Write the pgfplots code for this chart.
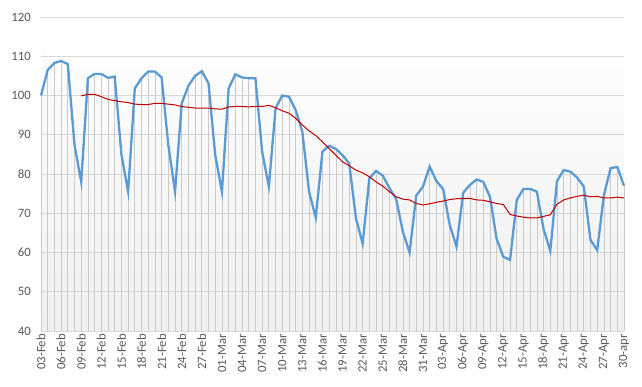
\documentclass[border=0pt]{standalone}
\usepackage{pgfplots}
\pgfplotsset{compat=1.18}
\usepackage{fontspec}
\setmainfont{Carlito}
\definecolor{lblue}{HTML}{5B9BD5}
\definecolor{lred}{HTML}{C00000}
\definecolor{gridc}{HTML}{D9D9D9}
\definecolor{dropc}{HTML}{CACACA}
\definecolor{txt}{HTML}{595959}
\begin{document}
\begin{tikzpicture}[x=1bp,y=1bp]
\begin{axis}[
  at={(0,0)}, anchor=south west,
  scale only axis, width=583bp, height=314bp,
  xmin=0, xmax=87, ymin=40, ymax=120,
  ytick={40,50,...,120},
  xtick={0,3,...,87},
  xticklabels={03-Feb,06-Feb,09-Feb,12-Feb,15-Feb,18-Feb,21-Feb,24-Feb,27-Feb,01-Mar,04-Mar,07-Mar,10-Mar,13-Mar,16-Mar,19-Mar,22-Mar,25-Mar,28-Mar,31-Mar,03-Apr,06-Apr,09-Apr,12-Apr,15-Apr,18-Apr,21-Apr,24-Apr,27-Apr,30-apr},
  x tick label style={rotate=90, anchor=east, font=\fontsize{12.8}{14}\selectfont, text=txt, inner sep=3bp},
  y tick label style={font=\fontsize{12.8}{14}\selectfont, text=txt, anchor=east, inner sep=0bp, xshift=-10bp},
  /pgf/number format/assume math mode=true,
  ymajorgrids, grid style={gridc, line width=0.8bp},
  axis line style={draw=none},
  major tick length=0pt,
  axis background/.style={shade, top color=white, bottom color=black!6},
  clip=false,
]
\addplot[ycomb, dropc, line width=0.7bp, no markers] coordinates {
(0,100)(1,106.5)(2,108.3)(3,108.8)(4,108)(5,87.4)(6,78)(7,104.4)(8,105.5)(9,105.5)
(10,104.5)(11,104.8)(12,85)(13,75.5)(14,101.8)(15,104.4)(16,106.1)(17,106.1)(18,104.6)(19,87.4)
(20,75.5)(21,98)(22,102.5)(23,105)(24,106.2)(25,103.1)(26,84.8)(27,75.5)(28,101.8)(29,105.4)
(30,104.6)(31,104.4)(32,104.4)(33,85.7)(34,76.8)(35,96.7)(36,100)(37,99.7)(38,96.3)(39,90.8)
(40,75.5)(41,68.9)(42,85.7)(43,87.2)(44,86.4)(45,84.8)(46,82.7)(47,68.7)(48,62.3)(49,78.9)
(50,80.8)(51,79.6)(52,76.4)(53,73.6)(54,65.3)(55,60)(56,74.5)(57,76.8)(58,81.9)(59,78.2)
(60,76.2)(61,67)(62,61.5)(63,75.2)(64,77.2)(65,78.6)(66,78)(67,74.2)(68,63.4)(69,58.9)
(70,58.1)(71,73.4)(72,76.2)(73,76.2)(74,75.5)(75,66)(76,60.4)(77,78.2)(78,81)(79,80.6)
(80,79.1)(81,76.8)(82,63.2)(83,60.6)(84,74.6)(85,81.5)(86,81.8)(87,77)
};
\addplot[lblue, line width=2.3bp, no markers] coordinates {
(0,100)(1,106.5)(2,108.3)(3,108.8)(4,108)(5,87.4)(6,78)(7,104.4)(8,105.5)(9,105.5)
(10,104.5)(11,104.8)(12,85)(13,75.5)(14,101.8)(15,104.4)(16,106.1)(17,106.1)(18,104.6)(19,87.4)
(20,75.5)(21,98)(22,102.5)(23,105)(24,106.2)(25,103.1)(26,84.8)(27,75.5)(28,101.8)(29,105.4)
(30,104.6)(31,104.4)(32,104.4)(33,85.7)(34,76.8)(35,96.7)(36,100)(37,99.7)(38,96.3)(39,90.8)
(40,75.5)(41,68.9)(42,85.7)(43,87.2)(44,86.4)(45,84.8)(46,82.7)(47,68.7)(48,62.3)(49,78.9)
(50,80.8)(51,79.6)(52,76.4)(53,73.6)(54,65.3)(55,60)(56,74.5)(57,76.8)(58,81.9)(59,78.2)
(60,76.2)(61,67)(62,61.5)(63,75.2)(64,77.2)(65,78.6)(66,78)(67,74.2)(68,63.4)(69,58.9)
(70,58.1)(71,73.4)(72,76.2)(73,76.2)(74,75.5)(75,66)(76,60.4)(77,78.2)(78,81)(79,80.6)
(80,79.1)(81,76.8)(82,63.2)(83,60.6)(84,74.6)(85,81.5)(86,81.8)(87,77)
};
\addplot[lred, line width=1bp, no markers] coordinates {
(6,99.9)(7,100.3)(8,100.3)(9,99.7)(10,99.0)(11,98.7)(12,98.4)(13,98.2)(14,97.8)(15,97.7)
(16,97.7)(17,98.0)(18,98.0)(19,97.8)(20,97.6)(21,97.2)(22,97.0)(23,96.8)(24,96.8)(25,96.8)
(26,96.6)(27,96.5)(28,97.1)(29,97.2)(30,97.2)(31,97.1)(32,97.2)(33,97.2)(34,97.5)(35,96.9)
(36,96.1)(37,95.5)(38,94.2)(39,92.5)(40,91.0)(41,89.8)(42,88.2)(43,86.5)(44,84.8)(45,83.1)
(46,82.1)(47,81.0)(48,80.3)(49,79.3)(50,78.0)(51,76.9)(52,75.5)(53,74.2)(54,73.6)(55,73.4)
(56,72.5)(57,72.1)(58,72.4)(59,72.8)(60,73.1)(61,73.5)(62,73.7)(63,73.7)(64,73.8)(65,73.4)
(66,73.3)(67,72.9)(68,72.5)(69,72.2)(70,69.7)(71,69.3)(72,69.0)(73,68.8)(74,68.8)(75,69.2)
(76,69.6)(77,72.3)(78,73.4)(79,73.9)(80,74.3)(81,74.6)(82,74.2)(83,74.3)(84,73.9)(85,73.9)
(86,74.1)(87,73.9)
};
\end{axis}
\pgfresetboundingbox
\path[use as bounding box] (-41bp,-56bp) rectangle (601bp,331bp);
\end{tikzpicture}
\end{document}
